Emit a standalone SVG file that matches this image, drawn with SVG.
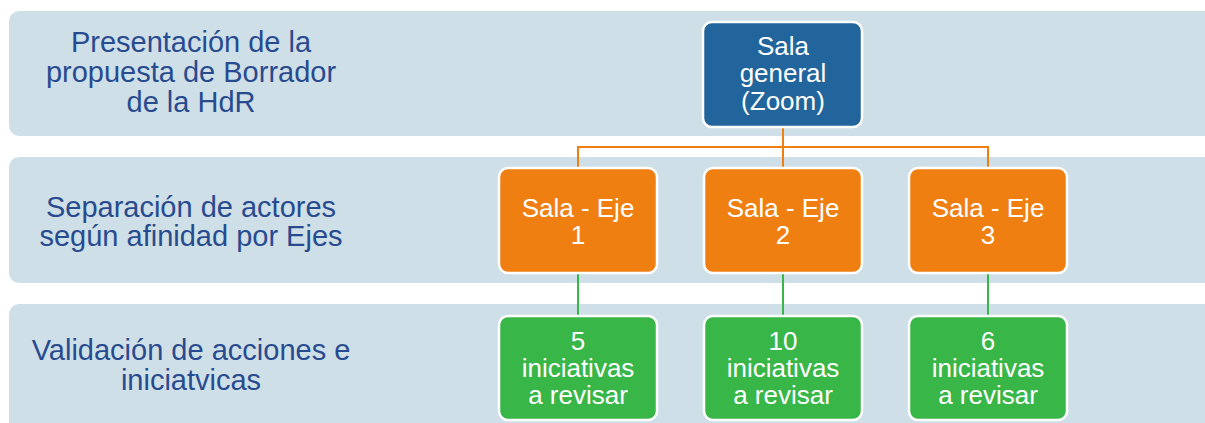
<svg xmlns="http://www.w3.org/2000/svg" width="1205" height="423" viewBox="0 0 1205 423">
<style>
.band{fill:#CFDFE7}
.lbl{font-family:"Liberation Sans",Arial,sans-serif;font-size:29px;fill:#284B8F;text-anchor:middle}
.nt{font-family:"Liberation Sans",Arial,sans-serif;font-size:26px;fill:#FFFFFF;text-anchor:middle}
.node{stroke:#FFFFFF;stroke-width:2.5}
.blue{fill:#21659C}
.orange{fill:#F07F12}
.green{fill:#38B648}
.co{fill:none;stroke:#F07F12;stroke-width:2}
.cg{fill:none;stroke:#38B648;stroke-width:2}
</style>
<rect width="1205" height="423" fill="#FFFFFF"/>
<g id="band1"><rect class="band" x="9" y="11" width="1220" height="125" rx="10"/>
<text class="lbl" x="191" y="52">Presentación de la</text>
<text class="lbl" x="191" y="82">propuesta de Borrador</text>
<text class="lbl" x="191" y="112">de la HdR</text></g>
<g id="band2"><rect class="band" x="9" y="157" width="1220" height="126" rx="10"/>
<text class="lbl" x="191" y="217">Separación de actores</text>
<text class="lbl" x="191" y="246">según afinidad por Ejes</text></g>
<g id="band3"><rect class="band" x="9" y="304" width="1220" height="140" rx="10"/>
<text class="lbl" x="191" y="360">Validación de acciones e</text>
<text class="lbl" x="191" y="390">iniciatvicas</text></g>
<g id="connectors">
<path class="co" d="M783 127 V147 M578 168 V147 H988 V168 M783 147 V168"/>
<path class="cg" d="M578 273 V316 M783 273 V316 M988 273 V316"/>
</g>
<g id="sala-general"><rect class="node blue" x="703" y="22" width="159" height="105" rx="9"/>
<text class="nt" x="783" y="55">Sala</text><text class="nt" x="783" y="82">general</text><text class="nt" x="783" y="110">(Zoom)</text></g>
<g id="eje1"><rect class="node orange" x="499" y="168" width="158" height="105" rx="9"/>
<text class="nt" x="578" y="217">Sala - Eje</text><text class="nt" x="578" y="244">1</text></g>
<g id="eje2"><rect class="node orange" x="704" y="168" width="158" height="105" rx="9"/>
<text class="nt" x="783" y="217">Sala - Eje</text><text class="nt" x="783" y="244">2</text></g>
<g id="eje3"><rect class="node orange" x="909" y="168" width="158" height="105" rx="9"/>
<text class="nt" x="988" y="217">Sala - Eje</text><text class="nt" x="988" y="244">3</text></g>
<g id="ini1"><rect class="node green" x="499" y="316" width="158" height="104" rx="9"/>
<text class="nt" x="578" y="350">5</text><text class="nt" x="578" y="377">iniciativas</text><text class="nt" x="578" y="404">a revisar</text></g>
<g id="ini2"><rect class="node green" x="704" y="316" width="158" height="104" rx="9"/>
<text class="nt" x="783" y="350">10</text><text class="nt" x="783" y="377">iniciativas</text><text class="nt" x="783" y="404">a revisar</text></g>
<g id="ini3"><rect class="node green" x="909" y="316" width="158" height="104" rx="9"/>
<text class="nt" x="988" y="350">6</text><text class="nt" x="988" y="377">iniciativas</text><text class="nt" x="988" y="404">a revisar</text></g>
</svg>
